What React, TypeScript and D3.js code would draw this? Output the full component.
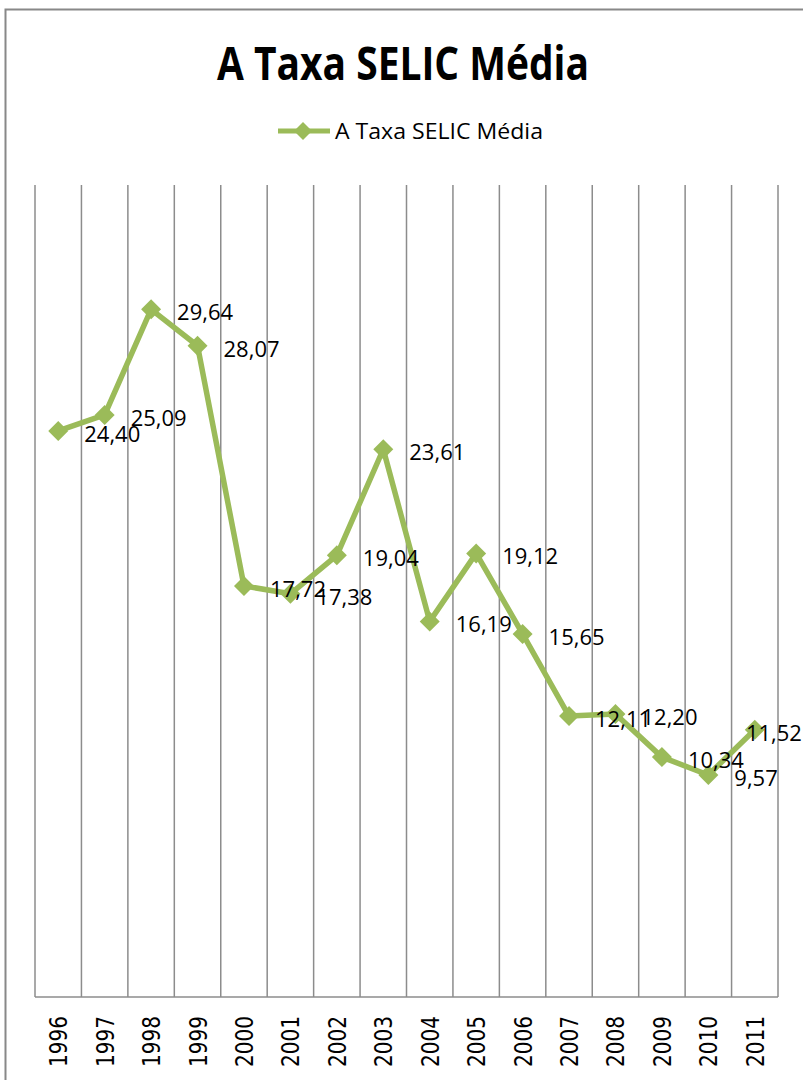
import React from "react";
import * as d3 from "d3";

const years: string[] = ["1996","1997","1998","1999","2000","2001","2002","2003","2004","2005","2006","2007","2008","2009","2010","2011"];
const selic: number[] = [24.40,25.09,29.64,28.07,17.72,17.38,19.04,23.61,16.19,19.12,15.65,12.11,12.20,10.34,9.57,11.52];
const chartTitle = "A Taxa SELIC Média";
const seriesName = "A Taxa SELIC Média";
const yMax = 35;

const W = 803;
const H = 1080;
const plot = { left: 35, right: 778, top: 185, bottom: 997 };
const green = "#9BBB59";
const gridColor = "#8C8C8C";

const fmt = (v: number) => v.toFixed(2).replace(".", ",");

export default function App() {
  const x = d3.scaleBand<string>().domain(years).range([plot.left, plot.right]).padding(0);
  const y = d3.scaleLinear().domain([0, yMax]).range([plot.bottom, plot.top]);
  const cx = (d: string) => (x(d) as number) + x.bandwidth() / 2;

  const line = d3.line<number>()
    .x((_, i) => cx(years[i]))
    .y((v) => y(v));

  const boundaries = years.map((d) => x(d) as number).concat([plot.right]);
  const diamond = (px: number, py: number, r: number) =>
    `M${px},${py - r}L${px + r},${py}L${px},${py + r}L${px - r},${py}Z`;

  const labelFont = 22;
  const labelW = (s: string) => labelFont * (0.572 * (s.length - 1) + 0.26);

  return (
    <svg width={W} height={H} style={{ position: "absolute", left: 0, top: 0, background: "#fff" }}>
      <rect x={0} y={0} width={W} height={H} fill="#fff" />
      <rect x={5.5} y={9.5} width={W + 50} height={H + 50} fill="none" stroke="#888" strokeWidth={2} />
      <text x={403} y={80} textAnchor="middle" fontFamily="'Open Sans', sans-serif" fontWeight={700}
        fontSize={46} textLength={372} lengthAdjust="spacingAndGlyphs" fill="#000">{chartTitle}</text>
      {/* legend */}
      <g>
        <line x1={278} x2={330} y1={131} y2={131} stroke={green} strokeWidth={5} />
        <path d={diamond(303, 131, 9)} fill={green} />
        <text x={335} y={139} fontFamily="'Open Sans', sans-serif" fontSize={22} textLength={208}
          lengthAdjust="spacingAndGlyphs" fill="#000">{seriesName}</text>
      </g>
      {/* vertical gridlines */}
      {boundaries.map((bx, i) => (
        <line key={i} x1={bx} x2={bx} y1={plot.top} y2={plot.bottom} stroke={gridColor} strokeWidth={1.5} />
      ))}
      <line x1={plot.left} x2={plot.right} y1={plot.bottom} y2={plot.bottom} stroke={gridColor} strokeWidth={1.5} />
      {/* x tick labels */}
      {years.map((d) => (
        <text key={d} transform={`translate(${cx(d) + 9},${1016}) rotate(-90)`} textAnchor="end"
          fontFamily="'DejaVu Sans', 'Verdana', sans-serif" fontSize={24} textLength={51}
          lengthAdjust="spacingAndGlyphs" fill="#000">{d}</text>
      ))}
      {/* series */}
      <path d={line(selic) || ""} fill="none" stroke={green} strokeWidth={5.5} strokeLinejoin="round" />
      {selic.map((v, i) => (
        <path key={i} d={diamond(cx(years[i]), y(v), 10)} fill={green} />
      ))}
      {selic.map((v, i) => {
        const s = fmt(v);
        const w = labelW(s);
        let lx = cx(years[i]) + 26;
        if (lx + w > W) lx = W - w - 1;
        return (
          <text key={"l" + i} x={lx} y={y(v) + 11} fontFamily="'Open Sans', sans-serif" fontSize={labelFont} fill="#000">{s}</text>
        );
      })}
    </svg>
  );
}
